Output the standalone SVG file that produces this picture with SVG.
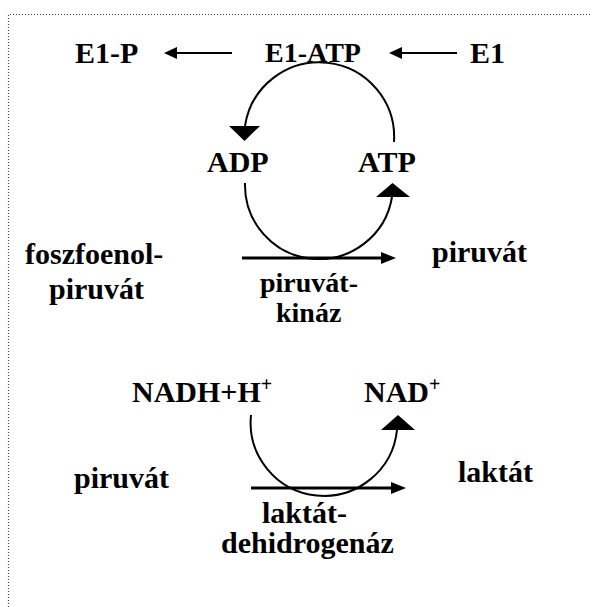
<svg xmlns="http://www.w3.org/2000/svg" width="592" height="607" viewBox="0 0 592 607">
<style>
.t{font-family:"Liberation Serif","Times New Roman",serif;font-weight:bold;font-size:30px;fill:#000}
.s{font-size:28px}
.sup{font-size:20px}
.arc{fill:none;stroke:#000;stroke-width:2}
.thin{stroke:#000;stroke-width:2}
.thick{stroke:#000;stroke-width:3}
.head{fill:#000}
.border{fill:none;stroke:#444;stroke-width:1.2;stroke-dasharray:1 2}
</style>
<rect width="592" height="607" fill="#fff"/>
<path class="border" d="M8.5 607 V14.5 H592"/>
<g id="connectors">
  <line class="thin" x1="232" y1="53" x2="175" y2="53"/>
  <polygon class="head" points="164,53 177,47 177,59"/>
  <line class="thin" x1="457" y1="53" x2="400" y2="53"/>
  <polygon class="head" points="389,53 402,47 402,59"/>
  <path class="arc" d="M394 142 A75 75 0 0 0 245 126"/>
  <polygon class="head" points="229,126 260,126 244.5,141"/>
  <path class="arc" d="M245 183 A74 74 0 0 0 392 197"/>
  <polygon class="head" points="376,197 410,197 392.5,183"/>
  <line class="thick" x1="242" y1="258" x2="383" y2="258"/>
  <polygon class="head" points="396,258 381,252 381,264"/>
  <path class="arc" d="M251 415 A73 73 0 0 0 397 430"/>
  <polygon class="head" points="381,430 415,430 398,415"/>
  <line class="thick" x1="251" y1="488" x2="393" y2="488"/>
  <polygon class="head" points="406,488 391,482 391,494"/>
</g>
<g id="E1-P"><text class="t" x="75" y="63">E1-P</text></g>
<g id="E1-ATP"><text class="t s" x="265" y="62">E1-ATP</text></g>
<g id="E1"><text class="t" x="470" y="63">E1</text></g>
<g id="ADP"><text class="t" x="207" y="172">ADP</text></g>
<g id="ATP"><text class="t" x="358" y="172">ATP</text></g>
<g id="foszfoenolpiruvat"><text class="t" x="25" y="264">foszfoenol-</text><text class="t" x="49" y="299">piruvát</text></g>
<g id="piruvat1"><text class="t" x="432" y="262">piruvát</text></g>
<g id="piruvatkinaz"><text class="t s" x="260" y="292">piruvát-</text><text class="t s" x="276" y="322">kináz</text></g>
<g id="NADH"><text class="t" x="132" y="402">NADH+H<tspan class="sup" dy="-11">+</tspan></text></g>
<g id="NAD"><text class="t" x="364" y="402">NAD<tspan class="sup" dy="-11">+</tspan></text></g>
<g id="piruvat2"><text class="t" x="74" y="488">piruvát</text></g>
<g id="laktat"><text class="t" x="458" y="482">laktát</text></g>
<g id="ldh"><text class="t" x="262" y="523">laktát-</text><text class="t" x="221" y="553">dehidrogenáz</text></g>
</svg>
